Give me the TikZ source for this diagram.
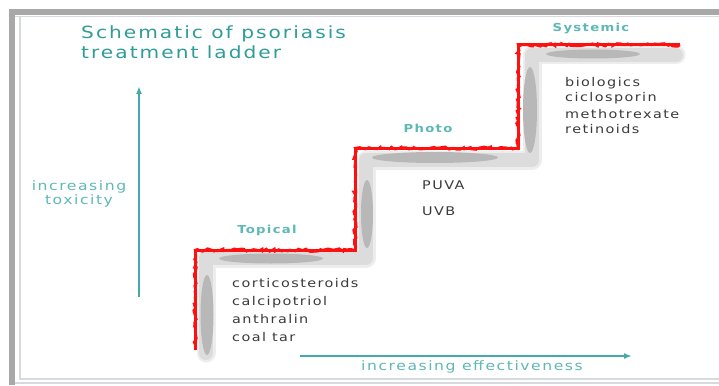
\documentclass[tikz,border=0pt]{standalone}
\usepackage{fontspec}
\usetikzlibrary{arrows.meta,decorations.pathmorphing}
\newfontfamily\vf[FakeStretch=1.2,LetterSpace=12]{DejaVu Sans}
\definecolor{tealA}{HTML}{2E9C98}
\definecolor{tealB}{HTML}{5DB8B6}
\definecolor{tealC}{HTML}{45ABA8}
\definecolor{txt}{HTML}{3A3A3A}
\definecolor{frameD}{HTML}{A8A8A8}
\definecolor{frameL}{HTML}{D6D9DF}
\definecolor{bandL}{HTML}{DCDCDC}
\definecolor{bandO}{HTML}{EDEDED}
\definecolor{bandD}{HTML}{B8B8B8}
\definecolor{redL}{HTML}{FF1010}
\tikzset{
  title/.style={inner sep=0pt, anchor=base west, text=tealA, font=\vf\fontsize{16.8}{19}\selectfont},
  steplbl/.style={inner sep=0pt, anchor=base, text=tealB, font=\vf\bfseries\fontsize{11}{13}\selectfont},
  axislbl/.style={inner sep=0pt, anchor=base, text=tealB, font=\vf\fontsize{13}{15}\selectfont},
  item/.style={inner sep=0pt, anchor=base west, text=txt, font=\vf\fontsize{12}{14}\selectfont},
  axisarrow/.style={draw=tealC, line width=1.6pt, -{Latex[length=8pt,width=6pt]}},
  bandouter/.style={draw=bandO, line width=19pt, line cap=round, line join=round},
  bandinner/.style={draw=bandL, line width=14pt, line cap=round, line join=round},
  redthick/.style={draw=redL, line width=3pt, line join=miter},
  redrough/.style={draw=redL, line width=2.2pt, decorate, decoration={random steps, segment length=3pt, amplitude=1.7pt}},
  darkblob/.style={fill=bandD}
}
\begin{document}
\begin{tikzpicture}[x=1pt,y=-1pt]
\useasboundingbox (0,0) rectangle (719,385);
% frame
\fill[frameD] (9,9) rectangle (719,15);
\fill[frameD] (9,9) rectangle (15,385);
\draw[frameL, line width=1.5pt] (15,16.5) -- (719,16.5);
\draw[frameL, line width=2pt] (20,16) -- (20,379) -- (719,379);
\draw[frameL, line width=1.5pt] (15,383) -- (719,383);

% grey shadow band of the ladder
\coordinate (g0) at (206,353);
\coordinate (g1) at (206,258);
\coordinate (g2) at (366,258);
\coordinate (g3) at (366,160);
\coordinate (g4) at (532,160);
\coordinate (g5) at (532,55);
\coordinate (g6) at (676,55);
\draw[bandouter] (g0) -- (g1) -- (g2) -- (g3) -- (g4) -- (g5) -- (g6);
\draw[bandinner] (g0) -- (g1) -- (g2) -- (g3) -- (g4) -- (g5) -- (g6);
% darker blobs
\fill[darkblob] (207,315) ellipse [x radius=6.5, y radius=40];
\fill[darkblob] (271,258.5) ellipse [x radius=52, y radius=5];
\fill[darkblob] (367,214) ellipse [x radius=6, y radius=34];
\fill[darkblob] (435,157.5) ellipse [x radius=63, y radius=5.5];
\fill[darkblob] (530,110) ellipse [x radius=7, y radius=43];
\fill[darkblob] (593,54) ellipse [x radius=47, y radius=4.5];

% red ladder edge
\coordinate (r0) at (195,350);
\coordinate (r1) at (195,250);
\coordinate (r2) at (355,250);
\coordinate (r3) at (355,148);
\coordinate (r4) at (518,148);
\coordinate (r5) at (518,45);
\coordinate (r6) at (680,45);
\draw[redthick] (r0) -- (r1) -- (r2) -- (r3) -- (r4) -- (r5) -- (r6);
\draw[redrough] (r0) -- (r1) -- (r2) -- (r3) -- (r4) -- (r5) -- (r6);

% title
\node[title] (t1) at (81,39) {Schematic of psoriasis};
\node[title] (t2) at (81,59) {treatment ladder};

% axes
\coordinate (va) at (139,297);
\coordinate (vb) at (139,86);
\draw[axisarrow] (va) -- (vb);
\coordinate (ha) at (300,356);
\coordinate (hb) at (632,356);
\draw[axisarrow] (ha) -- (hb);
\node[axislbl] (tox1) at (79,190) {increasing};
\node[axislbl] (tox2) at (79,204) {toxicity};
\node[axislbl] (eff) at (472,370) {increasing effectiveness};

% step labels
\node[steplbl] (top) at (267,233) {Topical};
\node[steplbl] (pho) at (428,132) {Photo};
\node[steplbl] (sys) at (591,32) {Systemic};

% items
\node[item] (i11) at (232,287) {corticosteroids};
\node[item] (i12) at (232,305) {calcipotriol};
\node[item] (i13) at (232,323) {anthralin};
\node[item] (i14) at (232,341) {coal tar};
\node[item] (i21) at (422,189) {PUVA};
\node[item] (i22) at (422,215) {UVB};
\node[item] (i31) at (565,87) {biologics};
\node[item] (i32) at (565,102) {ciclosporin};
\node[item] (i33) at (565,118) {methotrexate};
\node[item] (i34) at (565,133) {retinoids};
\end{tikzpicture}
\end{document}
